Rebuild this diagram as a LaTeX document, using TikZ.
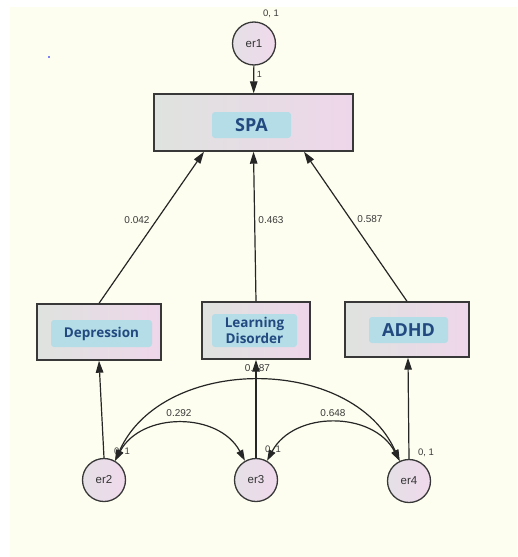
\documentclass[tikz,border=0pt]{standalone}
\usepackage{fontspec}
\setmainfont{Liberation Sans}
\newfontfamily\tagfont{Open Sans}
\usetikzlibrary{arrows.meta}
\definecolor{cream}{HTML}{FEFEF0}
\definecolor{boxgray}{HTML}{DFE3DF}
\definecolor{boxpink}{HTML}{EED6EA}
\definecolor{ringleft}{HTML}{E4E0E6}
\definecolor{ringright}{HTML}{F0D9EC}
\definecolor{tagblue}{HTML}{B4DDE7}
\definecolor{tagtext}{HTML}{224A80}
\definecolor{numtext}{HTML}{3A3A3A}
\tikzset{
	varbox/.style n args={2}{draw=black!78, line width=1.4pt, left color=boxgray, right color=boxpink,
		inner sep=0pt, minimum width=#1, minimum height=#2},
	tag/.style n args={3}{fill=tagblue, rounded corners=3pt, inner sep=0pt, minimum width=#1,
		minimum height=#2, text=tagtext, align=center, font=\tagfont\bfseries\fontsize{#3}{16}\selectfont},
	errnode/.style={circle, draw=black!78, line width=1.3pt, left color=ringleft, right color=ringright,
		inner sep=0pt, minimum size=43pt, font=\fontsize{11.5}{13}\selectfont, text=black!80},
	path/.style={line width=1.2pt, draw=black!85, -{Triangle[length=12pt,width=7.5pt]}},
	cov/.style={line width=1.2pt, draw=black!85, {Triangle[length=11pt,width=7pt]}-{Triangle[length=11pt,width=7pt]}},
	num/.style={text=numtext, inner sep=0pt, font=\fontsize{10}{12}\selectfont},
}
\begin{document}
\begin{tikzpicture}[x=1pt, y=-1pt]
	%background
	\useasboundingbox (0,0) rectangle (517,557);
	\fill[white] (0,0) rectangle (517,557);
	\fill[cream] (10,7) rectangle (517,557);
	\fill[blue] (49,57) circle (0.8);
	%boxes
	\node[varbox={199pt}{57pt}] (spa) at (253.5,122.5) {};
	\node[varbox={124pt}{56pt}] (dep) at (99,332) {};
	\node[varbox={108pt}{57pt}] (ld) at (256,330.5) {};
	\node[varbox={124pt}{55pt}] (adhd) at (407,329.5) {};
	\node[tag={79pt}{26pt}{18}] (spa tag) at (251.5,125) {SPA};
	\node[tag={101pt}{27pt}{13.5}] (dep tag) at (101.5,333.5) {Depression};
	\node[tag={85pt}{33pt}{13.5}] (ld tag) at (254.5,330.5) {Learning\\Disorder};
	\node[tag={79pt}{26pt}{18}] (adhd tag) at (408.5,330) {ADHD};
	%errors
	\node[errnode] (er1) at (254,43.5) {er1};
	\foreach \n/\x/\y in {er2/104/480, er3/256/480, er4/409/481}
	\node[errnode] (\n) at (\x,\y) {\n};
	%labels
	\node[num, font=\fontsize{9.5}{11}\selectfont] (var1) at (271,14) {0, 1};
	\foreach \n/\x/\y in {var2/122/452, var3/273/450, var4/426/453}
	\node[num, font=\fontsize{9.5}{11}\selectfont] (\n) at (\x,\y) {0, 1};
	\node[num, font=\fontsize{9}{11}\selectfont] (w1) at (259.5,74) {1};
	\node[num] (b dep) at (137,220) {0.042};
	\node[num] (b ld) at (271,220) {0.463};
	\node[num] (b adhd) at (370,219) {0.587};
	\node[num] (r23) at (179,413) {0.292};
	\node[num] (r34) at (333,413) {0.648};
	\node[num] (r24) at (257.5,368) {0.187};
	%paths
	\draw[path] (er1) -- (spa);
	\draw[path] (dep.north) -- ([xshift=-49.5pt]spa.south);
	\draw[path] (ld.north) -- (spa.south);
	\draw[path] (adhd.north) -- ([xshift=50.5pt]spa.south);
	\draw[path] (er2.north) -- ([xshift=0pt]dep.south);
	\draw[path] (er3.north) -- (ld.south);
	\draw[path] (er4.north) -- ([xshift=1pt]adhd.south);
	%covariances
	\draw[cov] (er2.60) to[out=62, in=118, looseness=1.1] (er3.120);
	\draw[cov] (er3.60) to[out=62, in=118, looseness=1.1] (er4.115);
	\draw[cov] (er2.60) to[out=66, in=114, looseness=1.05] (er4.115);
\end{tikzpicture}
\end{document}
